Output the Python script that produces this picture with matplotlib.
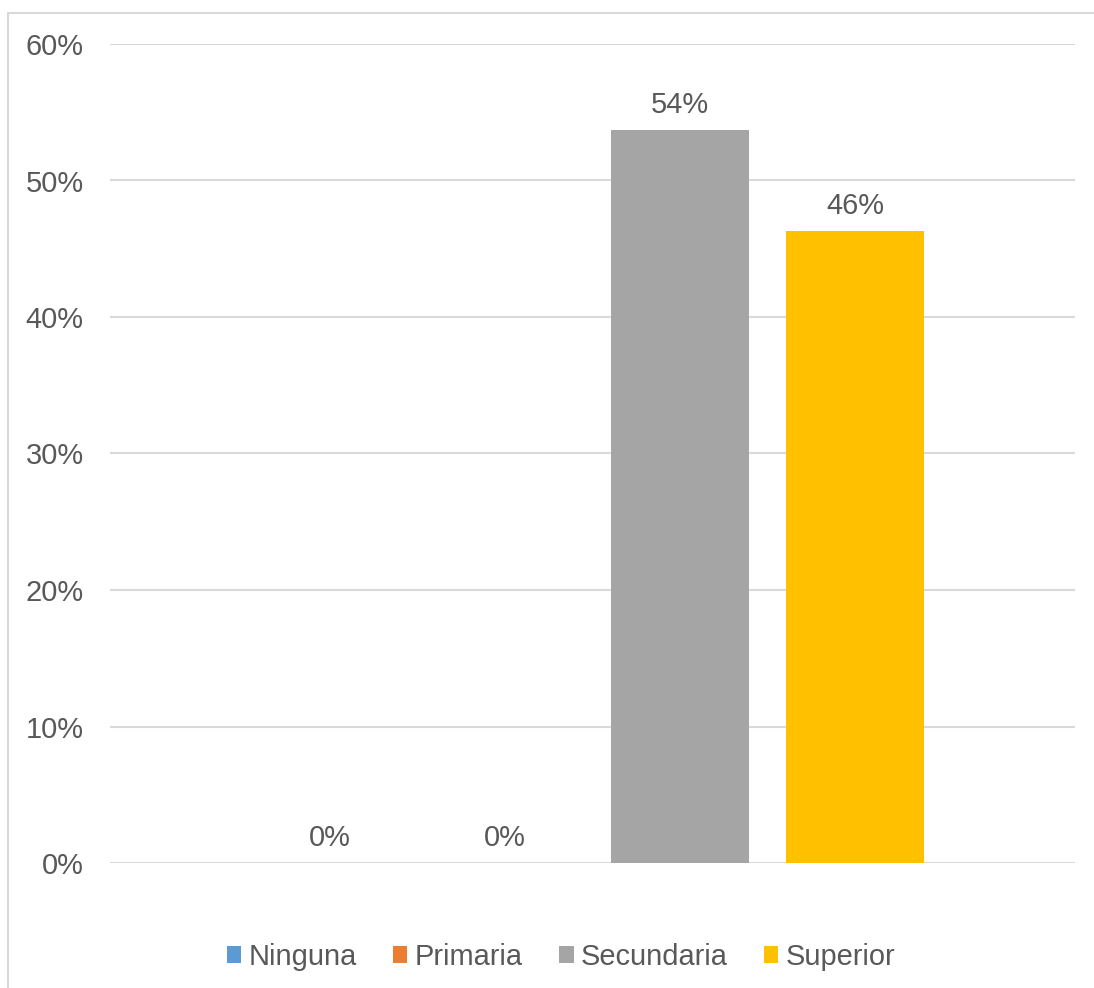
import matplotlib
matplotlib.use("Agg")
import matplotlib.pyplot as plt
from matplotlib.patches import Rectangle
from matplotlib.ticker import PercentFormatter

plt.rcParams['font.family'] = ['Liberation Sans', 'DejaVu Sans']

# data
series = ['Ninguna', 'Primaria', 'Secundaria', 'Superior']
values = [0.0, 0.0, 0.537, 0.463]
colors = ['#5B9BD5', '#ED7D31', '#A5A5A5', '#FFC000']
yticks = [0.0, 0.1, 0.2, 0.3, 0.4, 0.5, 0.6]

txt = '#595959'
grid = '#D9D9D9'
fs = 20.9

W, H = 1094, 988
fig = plt.figure(figsize=(W / 100, H / 100), dpi=100)
ax = fig.add_axes([110 / W, 1 - 863 / H, (1075 - 110) / W, (863 - 44) / H])

# chart border (clipped by the image on right and bottom)
fig.patches.append(Rectangle((8 / W, -0.2), 1.5, 1.2 - 13 / H,
                             transform=fig.transFigure, fill=False,
                             edgecolor=grid, linewidth=1.5))

xs = list(range(len(series)))
for x, name, v, c in zip(xs, series, values, colors):
    ax.bar(x, v, width=0.79, color=c, label=name, zorder=3)
    ax.annotate(f'{v:.0%}', (x, v), xytext=(0, 12), textcoords='offset points',
                ha='center', va='baseline', fontsize=fs, color=txt)

ax.set_xlim(-1.257, 4.257)
ax.set_ylim(0, 0.6)
ax.set_yticks(yticks)
ax.yaxis.set_major_formatter(PercentFormatter(1.0, decimals=0))
ax.set_xticks([])
ax.tick_params(axis='y', length=0, pad=19, labelsize=fs, labelcolor=txt)
ax.grid(axis='y', color=grid, linewidth=1.5, zorder=0)
for s in ax.spines.values():
    s.set_visible(False)

fig.legend(loc='center', bbox_to_anchor=(561 / W, 1 - 957 / H), ncol=4,
           frameon=False, fontsize=fs, labelcolor=txt,
           handlelength=0.5, handleheight=0.5, handletextpad=0.25,
           columnspacing=1.25)

fig.savefig('out.png', dpi=100)
